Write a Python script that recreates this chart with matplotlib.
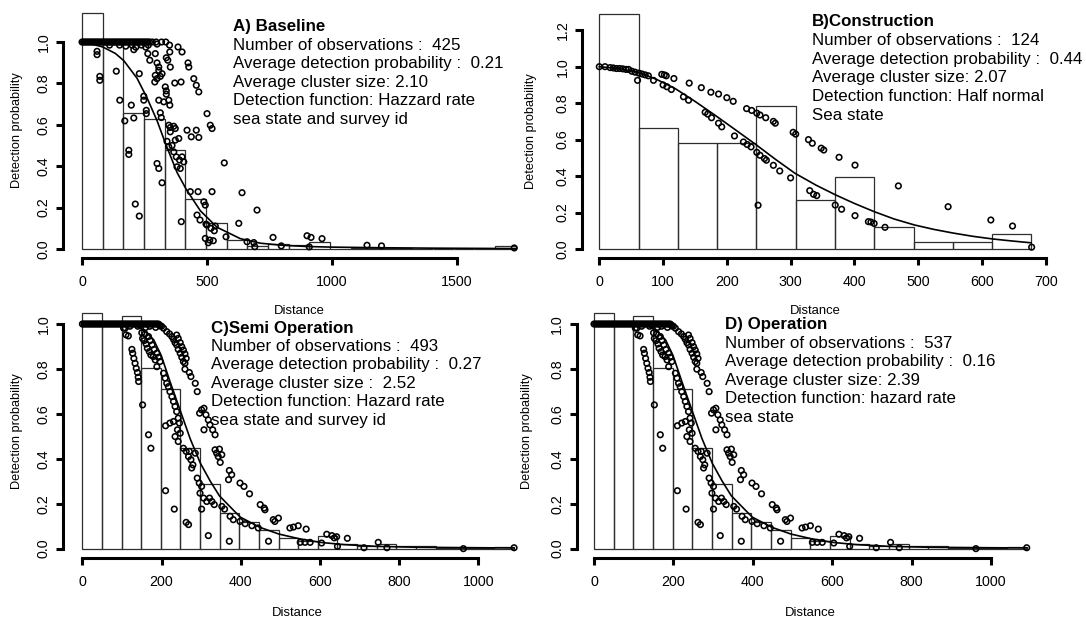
import numpy as np
import matplotlib
matplotlib.use("Agg")
import matplotlib.pyplot as plt

plt.rcParams['font.family'] = ['Liberation Sans', 'DejaVu Sans']

W, H, DPI = 1086, 619, 100

# ---------------- A) Baseline ----------------
base_bar_heights = [1.14, 0.99, 0.655, 0.627, 0.48, 0.24, 0.124, 0.045, 0.015, 0.024, 0.02,
                    0.032, 0.0, 0.006, 0.006, 0.006, 0.0, 0.0, 0.0, 0.0, 0.014]
base_trunc = 1735
base_top_x = [0, 6, 12, 18, 24, 30, 36, 42, 48, 54, 60, 66, 72, 78, 84, 90, 96, 102, 108, 114,
              120, 126, 132, 138, 144, 150, 156, 162, 168, 174, 180, 186, 192, 198, 204, 210,
              216, 222, 228, 234, 240, 246, 252, 258, 264, 270, 281, 296, 318, 335]
base_points = [
    (110, 0.985), (150, 0.985), (175, 0.98), (200, 0.985), (215, 0.975), (238, 0.985),
    (255, 0.975), (265, 0.985), (300, 0.99), (350, 0.985),
    (60, 0.955), (60, 0.939), (71, 0.834), (71, 0.815), (137, 0.859), (151, 0.719),
    (197, 0.695), (171, 0.619), (207, 0.633), (187, 0.477), (187, 0.457), (213, 0.217),
    (229, 0.159), (229, 0.847), (207, 0.963), (247, 0.738), (247, 0.719), (257, 0.670),
    (257, 0.654), (263, 0.944), (271, 0.912), (293, 0.944), (300, 0.899), (307, 0.879),
    (293, 0.839), (300, 0.823), (291, 0.807), (313, 0.834), (320, 0.847), (307, 0.863),
    (307, 0.719), (327, 0.711), (347, 0.719), (351, 0.695), (313, 0.658), (317, 0.635),
    (333, 0.783), (337, 0.764), (337, 0.748), (337, 0.924), (343, 0.912), (353, 0.879),
    (351, 0.952), (371, 0.802), (396, 0.807), (300, 0.413), (307, 0.389), (320, 0.320),
    (347, 0.598), (353, 0.587), (367, 0.593), (373, 0.582), (353, 0.566), (373, 0.526),
    (387, 0.534), (347, 0.494), (367, 0.469), (377, 0.445), (380, 0.397), (393, 0.389),
    (407, 0.421), (400, 0.445), (420, 0.574), (437, 0.542), (457, 0.574), (467, 0.539),
    (424, 0.899), (427, 0.879), (447, 0.823), (457, 0.791), (467, 0.759), (384, 0.976),
    (400, 0.952), (500, 0.654), (513, 0.598), (520, 0.582), (569, 0.416), (433, 0.277),
    (464, 0.277), (520, 0.277), (397, 0.132), (460, 0.164), (487, 0.228), (493, 0.212),
    (640, 0.272), (500, 0.116), (516, 0.100), (529, 0.088), (533, 0.111), (627, 0.124),
    (493, 0.051), (511, 0.043), (576, 0.059), (660, 0.035), (687, 0.031), (691, 0.011),
    (700, 0.188), (764, 0.056), (797, 0.015), (900, 0.064), (916, 0.056), (960, 0.050),
    (909, 0.010), (1140, 0.018), (1198, 0.015), (1729, 0.005), (340, 0.52), (360, 0.50),
    (390, 0.43), (472, 0.14), (496, 0.12), (505, 0.03), (525, 0.04),
]
base_fit_x = [0, 40, 83, 133, 167, 220, 260, 300, 337, 380, 416, 473, 540, 633, 713, 800,
              900, 1000, 1200, 1400, 1735]
base_fit_y = [1.0, 0.99, 0.976, 0.945, 0.91, 0.825, 0.73, 0.62, 0.5, 0.37, 0.29, 0.185,
              0.105, 0.05, 0.028, 0.018, 0.012, 0.009, 0.006, 0.004, 0.002]
base_info = ["A) Baseline",
             "Number of observations :  425",
             "Average detection probability :  0.21",
             "Average cluster size: 2.10",
             "Detection function: Hazzard rate",
             "sea state and survey id"]

# ---------------- B) Construction ----------------
cons_bar_heights = [1.29, 0.666, 0.584, 0.584, 0.783, 0.271, 0.393, 0.119, 0.04, 0.04, 0.08]
cons_trunc = 677.5
cons_points = [
    (0, 1.0), (9, 1.0), (17, 0.995), (22, 0.993), (27, 0.99), (32, 0.99), (37, 0.988),
    (42, 0.985), (46, 0.985), (51, 0.975), (56, 0.97), (62, 0.965), (67, 0.96), (72, 0.955),
    (60, 0.925), (77, 0.95), (85, 0.925), (98, 0.958), (102, 0.955), (105, 0.95), (117, 0.935),
    (100, 0.9), (106, 0.89), (113, 0.875), (141, 0.91), (132, 0.835), (140, 0.816),
    (160, 0.885), (175, 0.86), (187, 0.85), (200, 0.83), (210, 0.81), (166, 0.75), (170, 0.74),
    (176, 0.72), (187, 0.69), (192, 0.67), (231, 0.77), (239, 0.76), (247, 0.745),
    (252, 0.735), (261, 0.72), (273, 0.70), (276, 0.69), (212, 0.62), (226, 0.587),
    (232, 0.573), (238, 0.56), (247, 0.53), (252, 0.514), (259, 0.496), (262, 0.487),
    (273, 0.459), (283, 0.428), (300, 0.39), (304, 0.64), (308, 0.63), (328, 0.60),
    (334, 0.58), (348, 0.553), (352, 0.543), (376, 0.503), (401, 0.46), (469, 0.346),
    (547, 0.232), (614, 0.159), (648, 0.126), (249, 0.24), (330, 0.32), (336, 0.30),
    (341, 0.293), (370, 0.241), (380, 0.218), (401, 0.183), (422, 0.15), (426, 0.148),
    (431, 0.14), (448, 0.119), (678, 0.01),
]
cons_fit_x = [0, 30, 61, 90, 119, 150, 181, 215, 247, 277, 307, 340, 371, 400, 431, 462, 494,
              524, 554, 585, 617, 647, 677]
cons_fit_y = [1.0, 0.99, 0.97, 0.93, 0.88, 0.81, 0.735, 0.65, 0.569, 0.49, 0.415, 0.35, 0.296,
              0.25, 0.205, 0.165, 0.132, 0.108, 0.088, 0.07, 0.055, 0.044, 0.034]
cons_info = ["B)Construction",
             "Number of observations :  124",
             "Average detection probability :  0.44",
             "Average cluster size: 2.07",
             "Detection function: Half normal",
             "Sea state"]

# ---------------- C) Semi operation ----------------
semi_bar_heights = [1.05, 1.0, 1.037, 0.806, 0.709, 0.447, 0.288, 0.16, 0.12, 0.083, 0.047,
                    0.036, 0.057, 0.02, 0.012, 0.02, 0.01, 0.01, 0.005, 0.005, 0.003, 0.008]
semi_trunc = 1090
semi_top_x = [0, 4, 8, 12, 16, 20, 24, 28, 32, 36, 40, 44, 48, 52, 56, 60, 64, 68, 72, 76, 80,
              84, 88, 92, 96, 100, 104, 108, 112, 116, 120, 124, 128, 132, 136, 140, 144, 148,
              152, 156, 160, 164, 168, 172, 176, 180, 184, 188, 192]
semi_points = [
    (108, 0.982), (110, 0.952), (120, 0.99), (140, 0.99), (160, 0.985), (170, 0.99),
    (185, 0.985), (195, 0.995), (200, 0.99),
    (104, 0.982), (116, 0.947), (125, 0.887), (127, 0.870), (130, 0.847), (133, 0.825),
    (136, 0.803), (139, 0.784), (141, 0.763), (142, 0.744), (152, 0.640), (167, 0.507),
    (173, 0.447), (150, 0.961), (152, 0.936), (156, 0.926), (161, 0.911), (164, 0.892),
    (169, 0.877), (173, 0.862), (179, 0.855), (184, 0.840), (188, 0.810), (158, 0.956),
    (167, 0.944), (171, 0.926), (176, 0.907), (181, 0.887), (188, 0.870), (192, 0.852),
    (196, 0.833), (205, 0.781), (209, 0.759), (213, 0.736), (217, 0.721), (221, 0.699),
    (226, 0.677), (230, 0.655), (234, 0.633), (238, 0.610), (242, 0.581), (245, 0.559),
    (240, 0.529), (247, 0.514), (234, 0.499), (242, 0.477), (210, 0.547), (221, 0.559),
    (230, 0.566), (255, 0.447), (262, 0.433), (268, 0.410), (274, 0.396), (279, 0.373),
    (276, 0.359), (270, 0.433), (285, 0.425), (290, 0.314), (295, 0.292), (301, 0.277),
    (297, 0.247), (306, 0.225), (314, 0.210), (321, 0.225), (327, 0.210), (333, 0.196),
    (210, 0.258), (232, 0.176), (262, 0.117), (268, 0.107), (318, 0.058), (371, 0.033),
    (301, 0.176), (352, 0.188), (359, 0.176), (373, 0.144), (381, 0.129), (398, 0.121),
    (411, 0.111), (428, 0.102), (444, 0.092), (470, 0.033),
    (196, 0.991), (205, 0.981), (213, 0.966), (220, 0.956), (226, 0.944), (230, 0.932),
    (234, 0.917), (238, 0.907), (242, 0.887), (247, 0.870), (251, 0.852), (255, 0.833),
    (259, 0.825), (238, 0.951), (242, 0.936), (247, 0.917), (251, 0.899), (255, 0.884),
    (259, 0.867), (262, 0.847), (259, 0.799), (270, 0.784), (274, 0.766), (285, 0.736),
    (290, 0.699), (296, 0.603), (301, 0.618), (307, 0.625), (312, 0.596), (318, 0.573),
    (322, 0.551), (329, 0.529), (335, 0.507), (307, 0.529), (335, 0.440), (346, 0.443),
    (339, 0.425), (343, 0.410), (352, 0.418), (348, 0.384), (371, 0.348), (377, 0.329),
    (369, 0.307), (398, 0.292), (408, 0.277), (422, 0.244), (449, 0.196), (459, 0.181),
    (461, 0.173), (482, 0.129), (486, 0.121), (495, 0.136), (524, 0.092), (533, 0.096),
    (545, 0.102), (565, 0.087),
    (550, 0.028), (562, 0.028), (575, 0.028), (604, 0.025), (617, 0.064), (630, 0.058),
    (642, 0.053), (636, 0.048), (644, 0.010), (669, 0.046), (711, 0.004), (747, 0.028),
    (769, 0.004), (962, 0.0), (1090, 0.004),
]
semi_fit_x = [0, 60, 100, 130, 154, 180, 199, 222, 248, 272, 298, 323, 346, 382, 399, 448,
              496, 545, 600, 660, 745, 850, 1000, 1090]
semi_fit_y = [1.0, 1.0, 0.999, 0.995, 0.975, 0.93, 0.86, 0.74, 0.61, 0.49, 0.38, 0.3, 0.235,
              0.17, 0.14, 0.095, 0.065, 0.045, 0.028, 0.018, 0.01, 0.006, 0.004, 0.003]
semi_info = ["C)Semi Operation",
             "Number of observations :  493",
             "Average detection probability :  0.27",
             "Average cluster size :  2.52",
             "Detection function: Hazard rate",
             "sea state and survey id"]

# ---------------- D) Operation ----------------
# the operation fit shows the same histogram, points and curve as the semi-operation fit
op_bar_heights = list(semi_bar_heights)
op_trunc = semi_trunc
op_top_x = list(semi_top_x)
op_points = list(semi_points)
op_fit_x = list(semi_fit_x)
op_fit_y = list(semi_fit_y)
op_info = ["D) Operation",
           "Number of observations :  537",
           "Average detection probability :  0.16",
           "Average cluster size: 2.39",
           "Detection function: hazard rate",
           "sea state"]

# ---------------- layout (pixels) ----------------
panels = [
    dict(bars=base_bar_heights, trunc=base_trunc, top=base_top_x, pts=base_points,
         fx=base_fit_x, fy=base_fit_y, info=base_info,
         box=(63.3, 2.7, 534.5, 258.3), xlim=(-75, 1810), ylim=(-0.045, 1.19),
         xt=[0, 500, 1000, 1500], yt=[0, 0.2, 0.4, 0.6, 0.8, 1.0],
         text_xy=(233, 26.7), dy=18.5, ylab_x=16.7, xlab_y=311.0),
    dict(bars=cons_bar_heights, trunc=cons_trunc, top=[], pts=cons_points,
         fx=cons_fit_x, fy=cons_fit_y, info=cons_info,
         box=(582, 4.7, 1049, 258.3), xlim=(-27.1, 705.2), ylim=(-0.051, 1.34),
         xt=[0, 100, 200, 300, 400, 500, 600, 700], yt=[0, 0.2, 0.4, 0.6, 0.8, 1.0, 1.2],
         text_xy=(812, 21.7), dy=18.7, ylab_x=530.7, xlab_y=311.0),
    dict(bars=semi_bar_heights, trunc=semi_trunc, top=semi_top_x, pts=semi_points,
         fx=semi_fit_x, fy=semi_fit_y, info=semi_info,
         box=(63.3, 303.8, 531.5, 558.3), xlim=(-48.2, 1134), ylim=(-0.043, 1.09),
         xt=[0, 200, 400, 600, 800, 1000], yt=[0, 0.2, 0.4, 0.6, 0.8, 1.0],
         text_xy=(210.7, 328.3), dy=18.35, ylab_x=16.7, xlab_y=613.3),
    dict(bars=op_bar_heights, trunc=op_trunc, top=op_top_x, pts=op_points,
         fx=op_fit_x, fy=op_fit_y, info=op_info,
         box=(576.7, 303.8, 1044.5, 558.3), xlim=(-43.6, 1134.8), ylim=(-0.043, 1.09),
         xt=[0, 200, 400, 600, 800, 1000], yt=[0, 0.2, 0.4, 0.6, 0.8, 1.0],
         text_xy=(725, 324.5), dy=18.6, ylab_x=526.7, xlab_y=613.3),
]

fig = plt.figure(figsize=(W / DPI, H / DPI), dpi=DPI)
fig.patch.set_facecolor('white')

for p in panels:
    l, t, r, b = p['box']
    ax = fig.add_axes([l / W, 1 - b / H, (r - l) / W, (b - t) / H])
    ax.set_facecolor('none')

    # histogram of scaled detections
    heights = np.asarray(p['bars'])
    edges = np.linspace(0, p['trunc'], len(heights) + 1)
    ax.bar(edges[:-1], heights, width=np.diff(edges), align='edge', fill=False,
           edgecolor='#2e2e2e', linewidth=0.9, zorder=1)

    # observed detection probabilities
    mk = dict(marker='o', s=16, facecolors='none', edgecolors='black',
              linewidths=1.15, zorder=2)
    if p['top']:
        ax.scatter(p['top'], [1.0] * len(p['top']), **mk)
    px, py = zip(*p['pts'])
    ax.scatter(px, py, **mk)

    # fitted detection function
    ax.plot(p['fx'], p['fy'], color='black', linewidth=1.2, zorder=3)

    ax.set_xlim(*p['xlim'])
    ax.set_ylim(*p['ylim'])
    for side in ('top', 'right'):
        ax.spines[side].set_visible(False)
    for side in ('left', 'bottom'):
        ax.spines[side].set_linewidth(2.2)
    ax.spines['left'].set_bounds(p['yt'][0], p['yt'][-1])
    ax.spines['bottom'].set_bounds(p['xt'][0], p['xt'][-1])

    ax.set_xticks(p['xt'], [f"{v:g}" for v in p['xt']], fontsize=10.3)
    ax.set_yticks(p['yt'], [f"{v:.1f}" for v in p['yt']], fontsize=10.3,
                  rotation=90, va='center')
    ax.tick_params(axis='both', length=5, width=2.2, color='black')
    ax.tick_params(axis='x', pad=7.0)
    ax.tick_params(axis='y', pad=4.0)

    cx = (l + r) / 2 / W
    cy = 1 - (t + b) / 2 / H
    ax.set_xlabel('Distance', fontsize=9.4, va='center', ha='center')
    ax.xaxis.set_label_coords(cx, 1 - p['xlab_y'] / H, transform=fig.transFigure)
    ax.set_ylabel('Detection probability', fontsize=9.2, va='center', ha='center')
    ax.yaxis.set_label_coords(p['ylab_x'] / W, cy, transform=fig.transFigure)

    tx, ty = p['text_xy']
    for i, line in enumerate(p['info']):
        fig.text(tx / W, 1 - (ty + i * p['dy']) / H, line, ha='left', va='center',
                 fontsize=12.2, fontweight='bold' if i == 0 else 'normal')

fig.savefig('out.png', dpi=DPI)
